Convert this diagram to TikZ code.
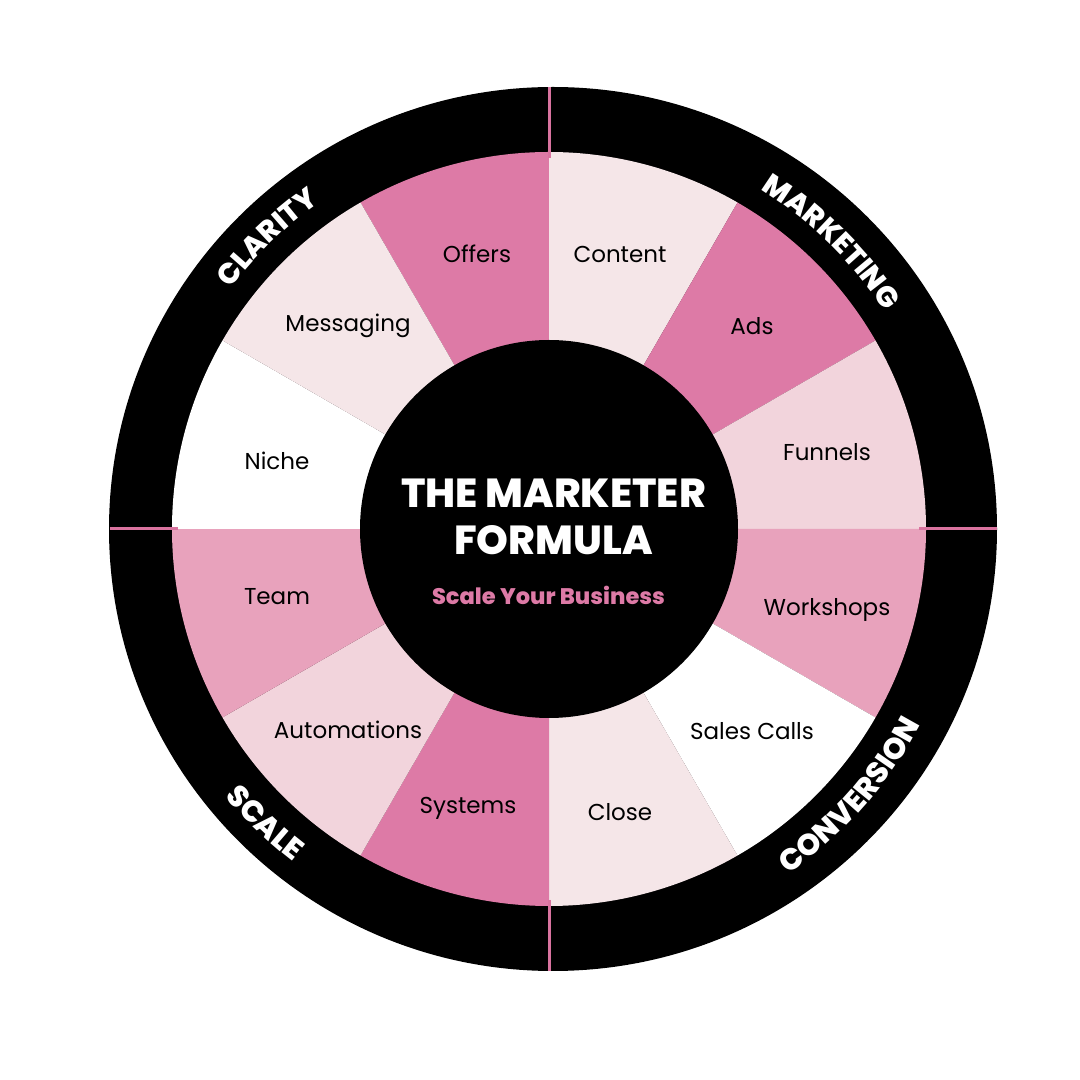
\documentclass[tikz,border=0pt]{standalone}
\usepackage{fontspec}
\setmainfont{Poppins}
\newfontfamily\heavyfont{Poppins ExtraBold}
\usetikzlibrary{decorations.text}
\definecolor{pinkA}{HTML}{DD7AA6}
\definecolor{pinkB}{HTML}{E8A2BC}
\definecolor{pinkC}{HTML}{F2D4DC}
\definecolor{pinkD}{HTML}{F5E6E8}
\definecolor{divider}{HTML}{D9739F}
\tikzset{
  lbl/.style={font=\fontsize{23}{26}\selectfont, text=black, inner sep=0pt},
  ttl/.style={font=\heavyfont\fontsize{40.5}{44}\selectfont, text=white, inner sep=0pt},
  sub/.style={font=\heavyfont\fontsize{22.5}{26}\selectfont, text=pinkA, inner sep=0pt},
  divline/.style={draw=divider, line width=3pt},
}
\newcommand{\ringfmt}{|\color{white}\heavyfont\fontsize{29}{29}\selectfont|}
\newcommand{\ringfmtb}{|\color{white}\heavyfont\fontsize{30}{30}\selectfont|}
\begin{document}
\begin{tikzpicture}[x=1pt,y=1pt]
\useasboundingbox[fill=white] (0,0) rectangle (1080,1080);
\coordinate (c) at (549,551);
\coordinate (co) at (553,551);
% outer black ring
\fill[black] (co) ellipse[x radius=444, y radius=442];
% segments
\foreach \a/\col in {90/pinkA,60/pinkD,30/pinkA,0/pinkC,-30/pinkB,-60/white,-90/pinkD,-120/pinkA,-150/pinkC,-180/pinkB,150/white,120/pinkD}{
  \fill[\col] (c) -- ++(\a:377) arc[start angle=\a, end angle=\a+30, radius=377] -- cycle;
}
% dividers in the ring
\path (c) ++(0:370) coordinate (d0a) (co) ++(0:444) coordinate (d0b);
\path (c) ++(180:371) coordinate (d180a) (co) ++(180:443) coordinate (d180b);
\path (c) ++(90:371) coordinate (d90a) (c) ++(90:442) coordinate (d90b);
\path (c) ++(270:371) coordinate (d270a) (c) ++(270:442) coordinate (d270b);
\foreach \a in {0,90,180,270}{
  \draw[divline] (d\a a) -- (d\a b);
}
% centre disc
\fill[black] (c) circle[radius=189];
% ring titles
\path[decorate, decoration={text along path, text align=center, text={\ringfmt CLARITY}}]
  (c) ++(164:399) arc[start angle=164, end angle=104, radius=399];
\path[decorate, decoration={text along path, text align=center, text={\ringfmt MARKETING}}]
  (c) ++(75.5:400) arc[start angle=75.5, end angle=15.5, radius=400];
\path[decorate, decoration={text along path, text align=center, text={\ringfmtb CONVERSION}}]
  (c) ++(-71.5:420) arc[start angle=-71.5, end angle=-11.5, radius=420];
\path[decorate, decoration={text along path, text align=center, text={\ringfmtb SCALE}}]
  (c) ++(196:420) arc[start angle=196, end angle=256, radius=420];
% segment labels
\node[lbl] (offers) at (477,826) {Offers};
\node[lbl] (content) at (620,826) {Content};
\node[lbl] (ads) at (752,754) {Ads};
\node[lbl] (funnels) at (827,628) {Funnels};
\node[lbl] (workshops) at (827,470) {Workshops};
\node[lbl] (salescalls) at (752,349) {Sales Calls};
\node[lbl] (close) at (620,268) {Close};
\node[lbl] (systems) at (468,272) {Systems};
\node[lbl] (automations) at (348,350) {Automations};
\node[lbl] (team) at (277,483) {Team};
\node[lbl] (niche) at (277,619) {Niche};
\node[lbl] (messaging) at (348,754) {Messaging};
% centre title
\node[ttl] (title1) at (553.5,587) {THE MARKETER};
\node[ttl] (title2) at (553.5,540) {FORMULA};
\node[sub] (subtitle) at (548.5,485) {Scale Your Business};
\end{tikzpicture}
\end{document}
